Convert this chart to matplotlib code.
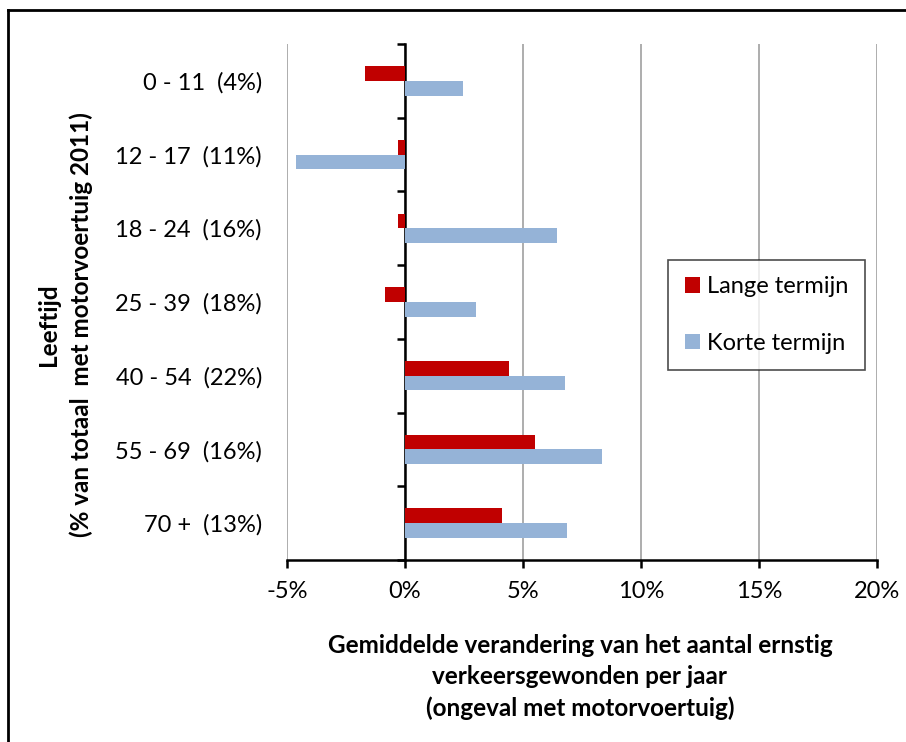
import matplotlib
matplotlib.use("Agg")
import matplotlib.pyplot as plt
from matplotlib.lines import Line2D
from matplotlib.ticker import FixedLocator, PercentFormatter

plt.rcParams['font.family'] = ['Lato', 'DejaVu Sans']
plt.rcParams['axes.unicode_minus'] = False

# leeftijdsgroepen en gemiddelde jaarlijkse verandering (%)
groepen = ["0 - 11  (4%)", "12 - 17  (11%)", "18 - 24  (16%)", "25 - 39  (18%)",
           "40 - 54  (22%)", "55 - 69  (16%)", "70 +  (13%)"]
lange_termijn = [-1.7, -0.3, -0.3, -0.85, 4.4, 5.5, 4.1]
korte_termijn = [2.45, -4.6, 6.45, 3.0, 6.8, 8.35, 6.85]

rood = "#C00000"
blauw = "#95B3D7"

fig = plt.figure(figsize=(9.06, 7.42), dpi=100)
ax = fig.add_axes([287/906, 1 - 560/742, 590/906, 516/742])

pos = list(range(len(groepen)))
h = 0.2
ax.barh([p - h/2 for p in pos], lange_termijn, height=h, color=rood,
        label="Lange termijn", zorder=3)
ax.barh([p + h/2 for p in pos], korte_termijn, height=h, color=blauw,
        label="Korte termijn", zorder=3)

ax.set_xlim(-5, 20)
ax.set_ylim(len(groepen) - 0.5, -0.5)
ax.set_xticks([-5, 0, 5, 10, 15, 20])
ax.xaxis.set_major_formatter(PercentFormatter(decimals=0))
ax.grid(axis="x", color="#a0a0a0", linewidth=1.2, zorder=0)

# categorie-as op 0%
for s in ["top", "right"]:
    ax.spines[s].set_visible(False)
ax.spines["left"].set_position(("data", 0))
ax.spines["left"].set_linewidth(1.8)
ax.spines["bottom"].set_linewidth(1.8)
ax.set_yticks(pos)
ax.set_yticklabels(groepen)
ax.yaxis.set_minor_locator(FixedLocator([p - 0.5 for p in pos] + [len(pos) - 0.5]))
ax.tick_params(axis="y", which="major", length=0, pad=103, labelsize=17)
ax.tick_params(axis="y", which="minor", length=6, width=1.8, direction="out")
ax.tick_params(axis="x", length=6, width=1.8, direction="out", pad=9, labelsize=17)

leg = ax.legend(loc="center left", bbox_to_anchor=(668/906, 1 - 315/742),
                bbox_transform=fig.transFigure, fontsize=17, frameon=True,
                fancybox=False, edgecolor="#202020", handlelength=0.65,
                handleheight=0.65, handletextpad=0.3, labelspacing=1.5,
                borderpad=0.7, borderaxespad=0)
leg.get_frame().set_linewidth(1.2)

fig.text(580/906, 1 - 677/742,
         "Gemiddelde verandering van het aantal ernstig\n"
         "verkeersgewonden per jaar\n(ongeval met motorvoertuig)",
         ha="center", va="center", fontsize=17.5, fontweight="bold",
         linespacing=1.42)
fig.text(65/906, 1 - 325/742,
         "Leeftijd\n(% van totaal  met motorvoertuig 2011)",
         ha="center", va="center", rotation=90, fontsize=17.5,
         fontweight="bold", linespacing=1.45)

# rand linksboven
fig.add_artist(Line2D([8/906, 8/906], [0, 1 - 10/742], color="black",
                      linewidth=2, transform=fig.transFigure))
fig.add_artist(Line2D([8/906, 1], [1 - 10/742, 1 - 10/742], color="black",
                      linewidth=2, transform=fig.transFigure))

fig.savefig("out.png", dpi=100)
